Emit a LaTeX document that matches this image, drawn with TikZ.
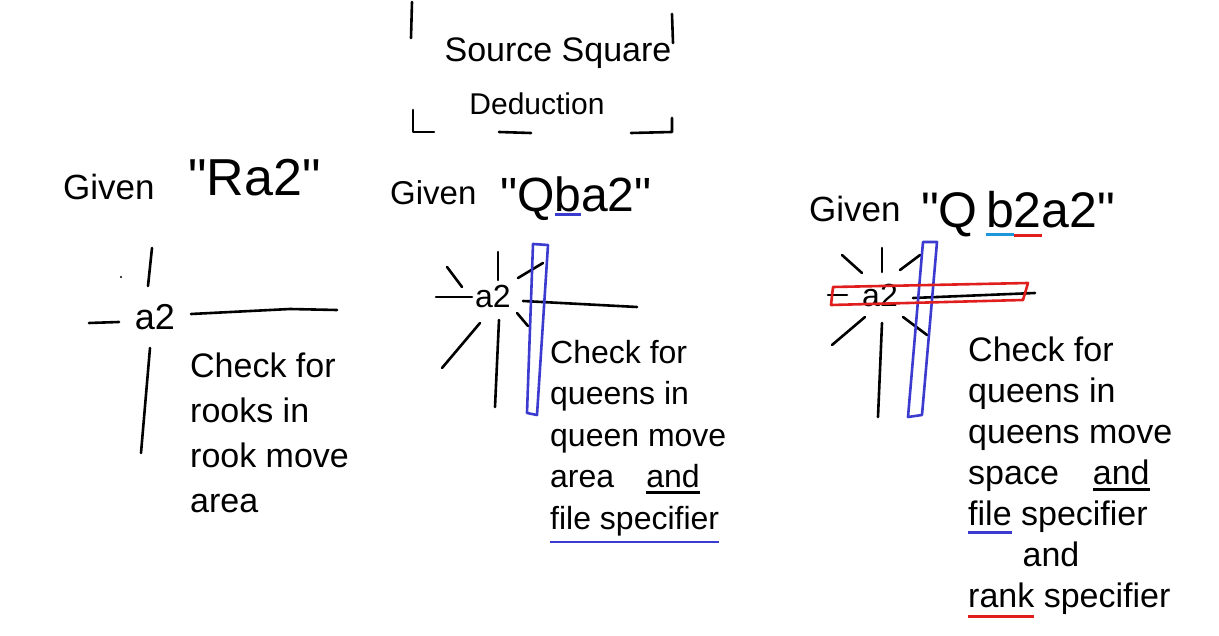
\documentclass[tikz,border=0pt]{standalone}
\usepackage{fontspec}
\setmainfont{Liberation Sans}
\usetikzlibrary{positioning}

\definecolor{penblue}{HTML}{3B3BD0}
\definecolor{penred}{HTML}{E01E1E}
\definecolor{pencyan}{HTML}{1E96DC}

% colored stroke under a word: [depth]{colour}{word}
\newsavebox\wordbox
\newcommand\underword[3][8pt]{\sbox\wordbox{#3}%
  \rlap{\textcolor{#2}{\rule[-#1]{\wd\wordbox}{2.5pt}}}\usebox\wordbox}
\newcommand\qq{\textquotedbl}

\begin{document}
\begin{tikzpicture}[x=1pt, y=-1pt,
    pen/.style={line width=2.6pt, line cap=round, line join=round},
    hand/.style={inner sep=0pt, anchor=base},
    note/.style={inner sep=0pt, anchor=north west, align=left}
  ]
  \fill[white] (0,0) rectangle (1219,636);
  \useasboundingbox (0,0) rectangle (1219,636);

  % title with corner marks
  \node[hand, font=\fontsize{34}{40}\selectfont] (title) at (558,62) {Source Square};
  \node[hand, font=\fontsize{30}{34}\selectfont] (subtitle) at (537,115) {Deduction};
  \draw[pen] (412,2) -- (411,38);
  \draw[pen] (672,14) -- (673,43);
  \draw[pen] (413,110) -- (413,132) -- (434,132);
  \draw[pen] (499,132) -- (531,133);
  \draw[pen] (631,133) -- (672,132) -- (672,118);

  % rook
  \node[hand, anchor=base west, font=\fontsize{35}{38}\selectfont] (given1) at (63,200) {Given};
  \node[hand, anchor=base west, font=\fontsize{52}{56}\selectfont] (move1) at (188,196) {\qq Ra2\qq};
  \node[hand, font=\fontsize{36}{40}\selectfont] (sq1) at (155,330) {a2};
  \fill (121,277) circle (1.2);
  \draw[pen] (152,248) -- (148,286);
  \draw[pen] (89,323) -- (119,322);
  \draw[pen] (191,314) -- (290,309) -- (337,310);
  \draw[pen] (150,348) -- (141,453);
  \node[note, font=\fontsize{34}{45}\selectfont] (rule1) at (190,353)
       {Check for\\rooks in\\rook move\\area};

  % queen with file
  \node[hand, anchor=base west, font=\fontsize{33}{36}\selectfont] (given2) at (390,205) {Given};
  \node[hand, anchor=base west, font=\fontsize{48}{52}\selectfont] (move2) at (500,212)
       {\qq Q\underword[4pt]{penblue}{b}a2\qq};
  \node[hand, font=\fontsize{32}{36}\selectfont] (sq2) at (493,308) {a2};
  \draw[pen] (498,252) -- (498,280);
  \draw[pen] (447,267) -- (462,287);
  \draw[pen] (518,278) -- (543,263);
  \draw[pen] (436,297) -- (472,297);
  \draw[pen] (523,301) -- (637,307);
  \draw[pen] (517,313) -- (528,326);
  \draw[pen] (480,323) -- (442,368);
  \draw[pen] (499,320) -- (495,407);
  \draw[pen, penblue] (533,244) -- (548,245) -- (537,415) -- (527,413) -- cycle;
  \node[note, font=\fontsize{32}{41.5}\selectfont] (rule2) at (550,340)
       {Check for\\queens in\\queen move\\area\quad\underword[6pt]{black}{and}\\
        \underword[14pt]{penblue}{file specifier}};

  % queen with file and rank
  \node[hand, anchor=base west, font=\fontsize{35}{38}\selectfont] (given3) at (809,222) {Given};
  \node[hand, anchor=base west, font=\fontsize{50}{54}\selectfont] (move3) at (921,228)
       {\qq Q\,\underword[8pt]{pencyan}{b}\underword[9pt]{penred}{2}a2\qq};
  \node[hand, font=\fontsize{32}{36}\selectfont] (sq3) at (880,307) {a2};
  \draw[pen] (882,248) -- (882,272);
  \draw[pen] (842,255) -- (862,273);
  \draw[pen] (900,270) -- (920,255);
  \draw[pen] (828,295) -- (847,295);
  \draw[pen] (913,298) -- (1035,293);
  \draw[pen] (903,317) -- (927,335);
  \draw[pen] (865,317) -- (832,345);
  \draw[pen] (882,323) -- (878,417);
  \draw[pen, penblue] (923,242) -- (937,242) -- (922,415) -- (908,417) -- cycle;
  \draw[pen, penred] (833,287) -- (1028,283) -- (1023,300) -- (831,305) -- cycle;
  \node[note, font=\fontsize{34}{41}\selectfont] (rule3) at (968,337)
       {Check for\\queens in\\queens move\\space\quad\underword[6pt]{black}{and}\\
        \underword[8pt]{penblue}{file} specifier\\\hspace*{1.6em}and\\
        \underword[10pt]{penred}{rank} specifier};
\end{tikzpicture}
\end{document}
